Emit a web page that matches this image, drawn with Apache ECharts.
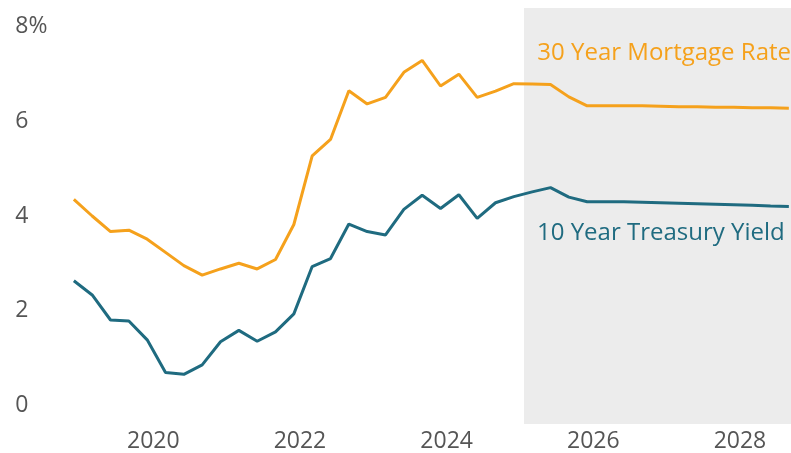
<!DOCTYPE html>
<html>
<head>
<meta charset="utf-8">
<script src="https://cdn.jsdelivr.net/npm/echarts@6/dist/echarts.min.js"></script>
<style>
  html, body { margin: 0; padding: 0; background: #fff; }
  #chart { width: 791px; height: 453px; }
</style>
</head>
<body>
<div id="chart"></div>
<script>
// quarterly observations, dated at the first day of the quarter's last month
const months = [
  "2018-12", "2019-03", "2019-06", "2019-09", "2019-12", "2020-03", "2020-06", "2020-09",
  "2020-12", "2021-03", "2021-06", "2021-09", "2021-12", "2022-03", "2022-06", "2022-09",
  "2022-12", "2023-03", "2023-06", "2023-09", "2023-12", "2024-03", "2024-06", "2024-09",
  "2024-12", "2025-03", "2025-06", "2025-09", "2025-12", "2026-03", "2026-06", "2026-09",
  "2026-12", "2027-03", "2027-06", "2027-09", "2027-12", "2028-03", "2028-06", "2028-09"
];

const mortgage30 = [
  4.35, 4.00, 3.67, 3.70, 3.51, 3.23, 2.95, 2.75,
  2.88, 3.00, 2.88, 3.08, 3.82, 5.27, 5.62, 6.65,
  6.37, 6.51, 7.04, 7.29, 6.75, 7.00, 6.51, 6.64,
  6.80, 6.79, 6.78, 6.52, 6.33, 6.33, 6.33, 6.33,
  6.32, 6.31, 6.31, 6.30, 6.30, 6.29, 6.29, 6.28
];

const treasury10 = [
  2.63, 2.33, 1.80, 1.78, 1.38, 0.69, 0.65, 0.85,
  1.34, 1.58, 1.35, 1.55, 1.93, 2.93, 3.10, 3.83,
  3.67, 3.60, 4.14, 4.44, 4.16, 4.45, 3.95, 4.28,
  4.41, 4.51, 4.60, 4.40, 4.30, 4.30, 4.30, 4.29,
  4.28, 4.27, 4.26, 4.25, 4.24, 4.23, 4.21, 4.20
];

const yearTicks = [2020, 2022, 2024, 2026, 2028];
const rateTicks = [0, 2, 4, 6, 8];
const forecastStart = 2025.055; // shaded forecast period begins here

const ORANGE = "#F5A11C";
const TEAL = "#1F6B80";
const TEXT = "#555555";
const FONT = "Open Sans";

function toYear(m) {
  const [y, mo] = m.split("-").map(Number);
  return y + (mo - 1) / 12;
}

const xMin = 2018.8, xMax = 2028.696;
const yMin = -0.4, yMax = 8.4;

const chart = echarts.init(document.getElementById("chart"));
chart.setOption({
  animation: false,
  grid: { left: 65.3, right: 0, top: 8, bottom: 27.3 },
  xAxis: {
    type: "value",
    min: xMin,
    max: xMax,
    axisLine: { show: false },
    axisTick: { show: false },
    splitLine: { show: false },
    axisLabel: {
      customValues: yearTicks,
      color: TEXT,
      fontFamily: FONT,
      fontSize: 23,
      margin: 6,
      formatter: (v) => String(v)
    }
  },
  yAxis: {
    type: "value",
    min: yMin,
    max: yMax,
    axisLine: { show: false },
    axisTick: { show: false },
    splitLine: { show: false },
    axisLabel: {
      customValues: rateTicks,
      color: TEXT,
      fontFamily: FONT,
      fontSize: 23,
      align: "left",
      margin: 50,
      formatter: (v) => (v === 8 ? "8%" : String(v))
    }
  },
  series: [
    {
      name: "30 Year Mortgage Rate",
      type: "line",
      symbol: "none",
      data: months.map((m, i) => [toYear(m), mortgage30[i]]),
      lineStyle: { color: ORANGE, width: 3 },
      itemStyle: { color: ORANGE },
      z: 3,
      markArea: {
        silent: true,
        itemStyle: { color: "#ECECEC" },
        data: [[{ xAxis: forecastStart, yAxis: yMin }, { xAxis: xMax, yAxis: yMax }]],
        z: 1
      }
    },
    {
      name: "10 Year Treasury Yield",
      type: "line",
      symbol: "none",
      data: months.map((m, i) => [toYear(m), treasury10[i]]),
      lineStyle: { color: TEAL, width: 3 },
      itemStyle: { color: TEAL },
      z: 3
    }
  ],
  graphic: [
    {
      type: "text",
      right: 0,
      top: 41,
      z: 10,
      style: { text: "30 Year Mortgage Rate", fill: ORANGE, font: "24px 'Open Sans'" }
    },
    {
      type: "text",
      left: 537,
      top: 221,
      z: 10,
      style: { text: "10 Year Treasury Yield", fill: TEAL, font: "24px 'Open Sans'" }
    }
  ]
});
</script>
</body>
</html>
